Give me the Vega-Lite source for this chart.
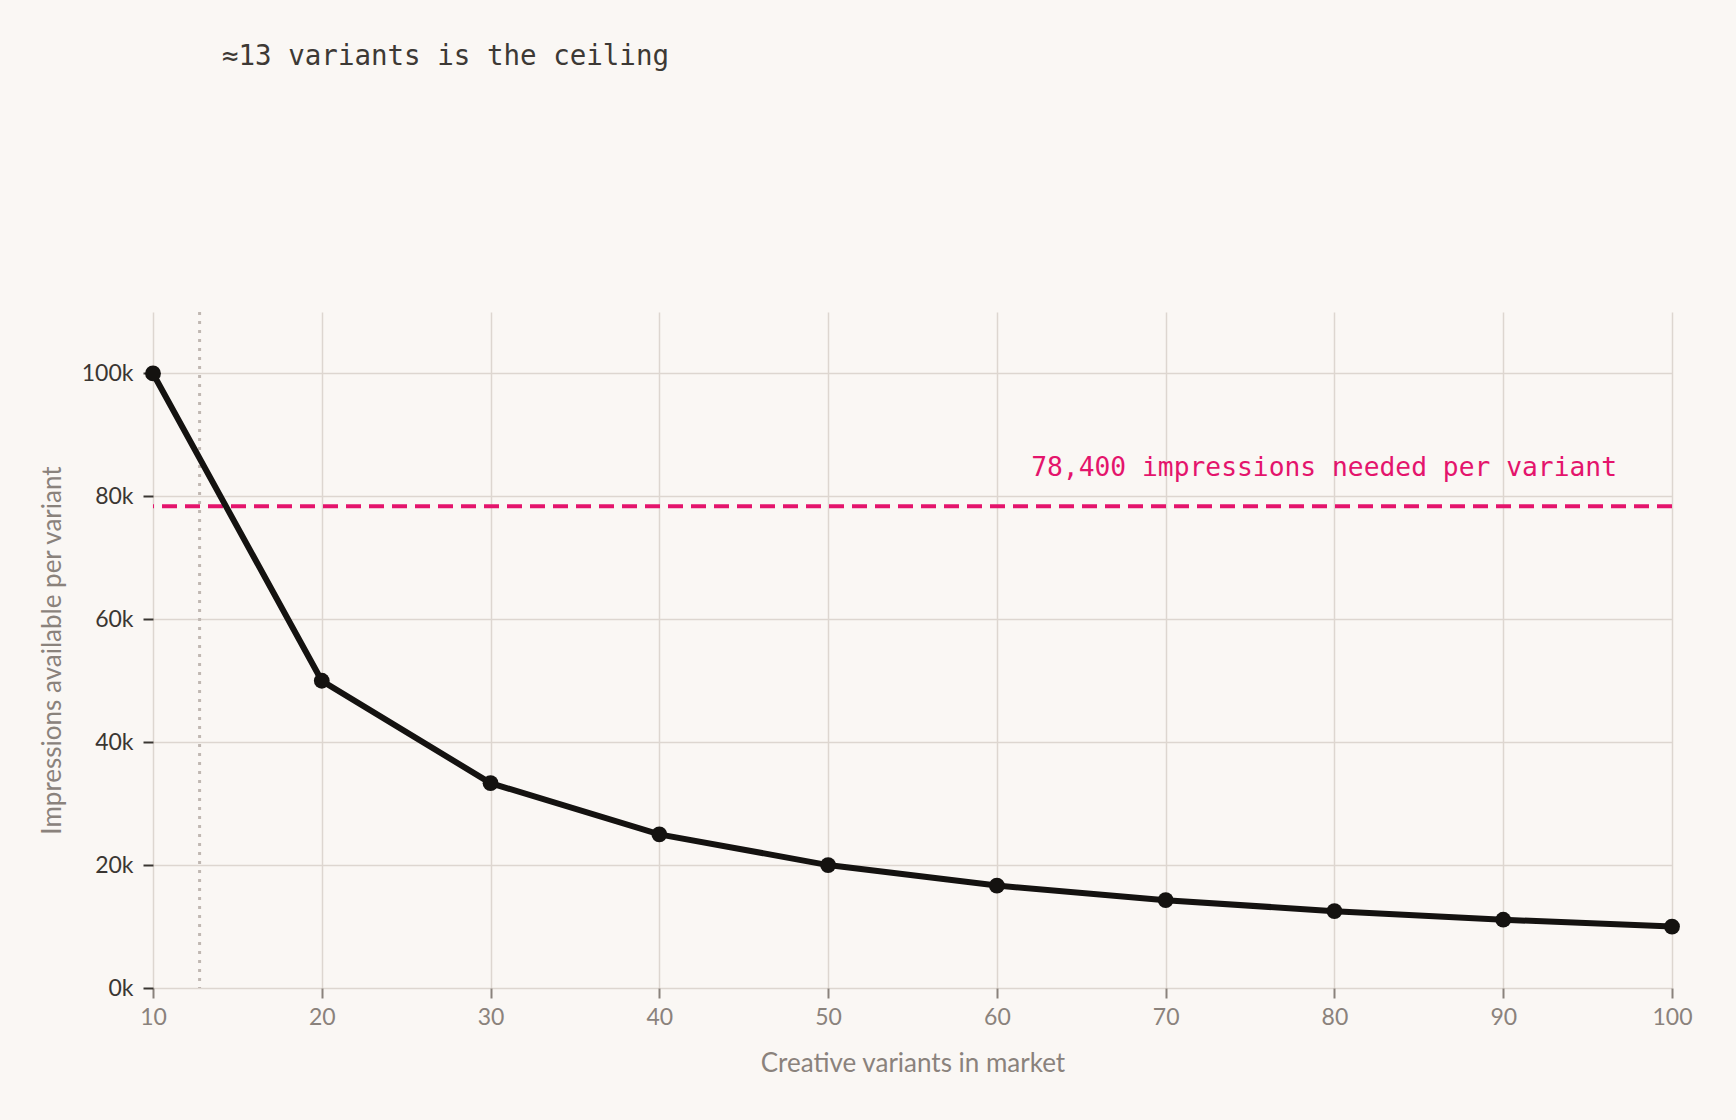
{
  "$schema": "https://vega.github.io/schema/vega-lite/v6.json",
  "autosize": {"type": "none"},
  "width": 1519,
  "height": 676,
  "padding": {"left": 153, "top": 312, "right": 64, "bottom": 132},
  "background": "#faf7f4",
  "title": {
    "text": "≈13 variants is the ceiling",
    "anchor": "start",
    "frame": "group",
    "dx": 69,
    "offset": 240,
    "font": "DejaVu Sans Mono",
    "fontSize": 27.5,
    "fontWeight": "normal",
    "color": "#3d3935"
  },
  "datasets": {
    "curve": [
      {"variants": 10, "impressions": 100000},
      {"variants": 20, "impressions": 50000},
      {"variants": 30, "impressions": 33333},
      {"variants": 40, "impressions": 25000},
      {"variants": 50, "impressions": 20000},
      {"variants": 60, "impressions": 16667},
      {"variants": 70, "impressions": 14286},
      {"variants": 80, "impressions": 12500},
      {"variants": 90, "impressions": 11111},
      {"variants": 100, "impressions": 10000}
    ],
    "threshold": [
      {"variants": 100, "impressions": 78400, "label": "78,400 impressions needed per variant"}
    ],
    "ceiling": [
      {"variants": 12.76}
    ]
  },
  "encoding": {
    "x": {
      "field": "variants",
      "type": "quantitative",
      "scale": {"domain": [10, 100], "nice": false},
      "axis": {
        "title": "Creative variants in market",
        "values": [10, 20, 30, 40, 50, 60, 70, 80, 90, 100],
        "labelFlush": false,
        "labelColor": "#8a827c",
        "tickColor": "#8a827c",
        "labelPadding": 8,
        "titlePadding": 21
      }
    },
    "y": {
      "field": "impressions",
      "type": "quantitative",
      "scale": {"domain": [0, 110000], "nice": false},
      "axis": {
        "title": "Impressions available per variant",
        "values": [0, 20000, 40000, 60000, 80000, 100000],
        "labelExpr": "datum.value / 1000 + 'k'",
        "labelColor": "#3a3632",
        "tickColor": "#3a3632",
        "labelPadding": 10,
        "titlePadding": 16
      }
    }
  },
  "layer": [
    {
      "data": {"name": "ceiling"},
      "mark": {"type": "rule", "color": "#c0b8b2", "strokeWidth": 3, "strokeDash": [3, 6]},
      "encoding": {"y": null}
    },
    {
      "data": {"name": "threshold"},
      "mark": {"type": "rule", "color": "#e4146c", "strokeWidth": 4, "strokeDash": [15, 8]},
      "encoding": {"x": null}
    },
    {
      "data": {"name": "curve"},
      "mark": {"type": "line", "color": "#141210", "strokeWidth": 6}
    },
    {
      "data": {"name": "curve"},
      "mark": {"type": "point", "filled": true, "opacity": 1, "color": "#141210", "size": 250}
    },
    {
      "data": {"name": "threshold"},
      "mark": {
        "type": "text",
        "align": "right",
        "baseline": "alphabetic",
        "dx": -55,
        "dy": -30,
        "font": "DejaVu Sans Mono",
        "fontSize": 26.3,
        "color": "#e4146c"
      },
      "encoding": {"text": {"field": "label"}}
    }
  ],
  "config": {
    "view": {"stroke": null},
    "axis": {
      "domain": false,
      "grid": true,
      "gridColor": "#ddd6d0",
      "gridWidth": 1.5,
      "tickSize": 10,
      "tickWidth": 2,
      "labelFont": "Lato",
      "labelFontSize": 23,
      "titleFont": "Lato",
      "titleFontSize": 26,
      "titleFontWeight": "normal",
      "titleColor": "#8a827c"
    }
  }
}
